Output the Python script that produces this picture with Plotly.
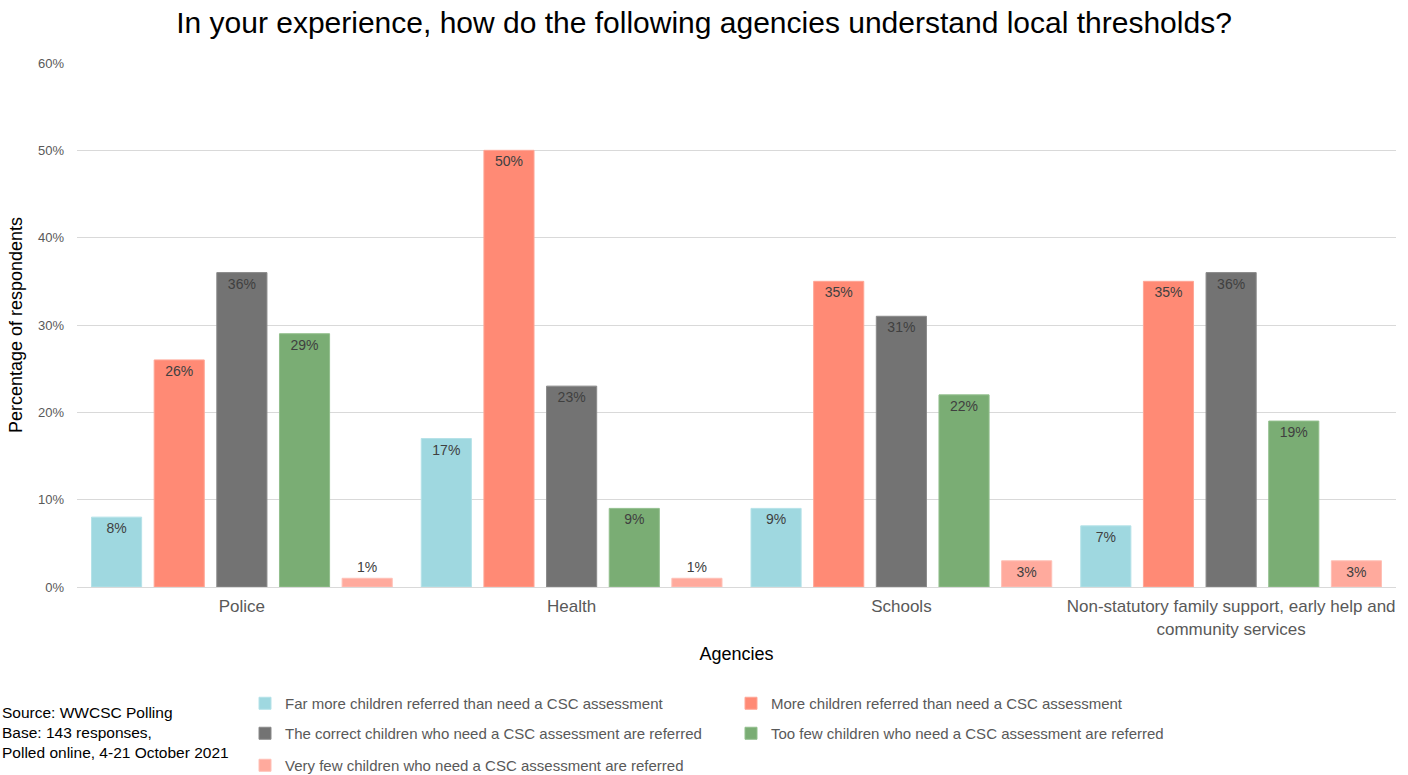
import plotly.graph_objects as go

agencies = ["Police", "Health", "Schools",
            "Non-statutory family support, early help and<br>community services"]

series_names = [
    "Far more children referred than need a CSC assessment",
    "More children referred than need a CSC assessment",
    "The correct children who need a CSC assessment are referred",
    "Too few children who need a CSC assessment are referred",
    "Very few children who need a CSC assessment are referred",
]
far_more = [8, 17, 9, 7]
more = [26, 50, 35, 35]
correct = [36, 23, 31, 36]
too_few = [29, 9, 22, 19]
very_few = [1, 1, 3, 3]

series_values = [far_more, more, correct, too_few, very_few]
colors = ["#9fd8e0", "#ff8a75", "#737373", "#7aad74", "#ffaa9d"]
edge_colors = ["#b5e2e8", "#ffa797", "#8a8a8a", "#92bf8d", "#ffc0b6"]
# legend rows: two entries per row, five entries in three rows
legend_ids = ["legend", "legend", "legend2", "legend2", "legend3"]

fig = go.Figure()
for name, vals, c, ec, lg in zip(series_names, series_values, colors, edge_colors, legend_ids):
    fig.add_trace(go.Bar(
        x=agencies, y=vals, name=name, legend=lg,
        marker=dict(color=c, line=dict(color=ec, width=1)),
        text=[f"{v}%" for v in vals],
        textposition=["inside" if v >= 2 else "outside" for v in vals],
        insidetextanchor="end",
        textfont=dict(color="#404040", size=14, family="Arial"),
        cliponaxis=False,
    ))

plot_h = 775 - 63 - 188
legend_common = dict(
    orientation="h", xanchor="left", yanchor="top", x=(245 - 77) / 1319,
    entrywidth=441, entrywidthmode="pixels",
    font=dict(size=15, color="#595959", family="Arial"),
    itemwidth=30, bgcolor="rgba(0,0,0,0)",
)

fig.update_layout(
    width=1408, height=775,
    paper_bgcolor="white", plot_bgcolor="white",
    margin=dict(l=77, r=12, t=63, b=188, autoexpand=False),
    barmode="group", bargap=0.05, bargroupgap=0.2,
    uniformtext=dict(minsize=14, mode="show"),
    font=dict(family="Arial", color="#595959"),
    title=dict(text="In your experience, how do the following agencies understand local thresholds?",
               x=0.5, xanchor="center", yref="container", y=1 - 22 / 775, yanchor="middle",
               font=dict(size=30, color="#000000", family="Arial")),
    xaxis=dict(
        title=dict(text="Agencies", font=dict(size=18, color="#000000"), standoff=9),
        tickfont=dict(size=17, color="#595959"),
        ticklabelstandoff=4,
        showline=True, linecolor="#d9d9d9", linewidth=1,
        ticks="", showgrid=False,
    ),
    yaxis=dict(
        title=dict(text="Percentage of respondents", font=dict(size=18, color="#000000"), standoff=10),
        range=[0, 60], dtick=10, ticksuffix="%",
        tickfont=dict(size=13, color="#595959"),
        ticklabelstandoff=12,
        showgrid=True, gridcolor="#d9d9d9", gridwidth=1,
        zeroline=False, showline=False, ticks="",
    ),
    legend=dict(legend_common, y=-(100 / plot_h)),
    legend2=dict(legend_common, y=-(130 / plot_h)),
    legend3=dict(legend_common, y=-(162 / plot_h)),
)

fig.add_annotation(
    text="Source: WWCSC Polling<br>Base: 143 responses,<br>Polled online, 4-21 October 2021",
    xref="paper", yref="paper", x=-0.058, y=-(115 / plot_h), xanchor="left", yanchor="top",
    showarrow=False, align="left",
    font=dict(size=15.5, color="#000000", family="Arial"),
)

fig.write_html("out.html")
